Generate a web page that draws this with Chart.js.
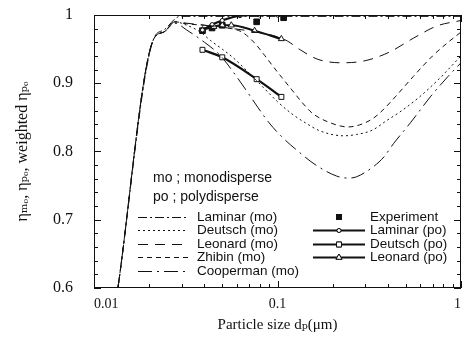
<!DOCTYPE html>
<html>
<head>
<meta charset="utf-8">
<script src="https://cdn.jsdelivr.net/npm/chart.js@4.4.0/dist/chart.umd.min.js"></script>
<style>
    html, body { margin: 0; padding: 0; background: #fff; }
    #wrap { width: 470px; height: 343px; }
</style>
</head>
<body>
<div id="wrap"><canvas id="effChart" width="470" height="343"></canvas></div>
<script>
// monodisperse curves
const laminarMoX = [0.0135, 0.021, 0.024, 0.0294, 0.04, 0.1, 0.3, 1];
const laminarMoY = [0.6, 0.963, 0.978, 0.998, 0.998, 0.998, 0.998, 0.998];

const deutschMoX = [0.0135, 0.021, 0.024, 0.0276, 0.032, 0.038, 0.043, 0.05, 0.057, 0.07, 0.085, 0.1, 0.12, 0.142, 0.171, 0.23, 0.27, 0.327, 0.397, 0.465, 0.594, 0.75, 1];
const deutschMoY = [0.6, 0.963, 0.975, 0.99, 0.985, 0.975, 0.963, 0.95, 0.938, 0.915, 0.892, 0.873, 0.855, 0.842, 0.83, 0.823, 0.825, 0.831, 0.846, 0.858, 0.88, 0.905, 0.94];

const leonardMoX = [0.0135, 0.021, 0.024, 0.0276, 0.032, 0.04, 0.05, 0.065, 0.08, 0.1, 0.113, 0.133, 0.166, 0.224, 0.3, 0.41, 0.55, 0.74, 1];
const leonardMoY = [0.6, 0.963, 0.975, 0.99, 0.988, 0.985, 0.982, 0.978, 0.974, 0.968, 0.962, 0.949, 0.935, 0.93, 0.933, 0.946, 0.966, 0.984, 0.992];

const zhibinMoX = [0.0135, 0.021, 0.024, 0.0276, 0.032, 0.04, 0.05, 0.064, 0.075, 0.085, 0.095, 0.106, 0.12, 0.136, 0.155, 0.19, 0.242, 0.28, 0.33, 0.376, 0.438, 0.55, 0.7, 0.85, 1];
const zhibinMoY = [0.6, 0.963, 0.975, 0.99, 0.987, 0.985, 0.982, 0.975, 0.959, 0.941, 0.924, 0.908, 0.89, 0.872, 0.856, 0.843, 0.836, 0.839, 0.848, 0.861, 0.88, 0.91, 0.94, 0.96, 0.975];

const coopermanMoX = [0.0135, 0.021, 0.024, 0.0276, 0.032, 0.04, 0.0487, 0.0565, 0.069, 0.078, 0.09, 0.107, 0.13, 0.16, 0.21, 0.245, 0.27, 0.33, 0.38, 0.43, 0.53, 0.68, 0.85, 1];
const coopermanMoY = [0.6, 0.963, 0.975, 0.988, 0.978, 0.96, 0.941, 0.919, 0.886, 0.865, 0.842, 0.82, 0.8, 0.781, 0.764, 0.761, 0.763, 0.777, 0.792, 0.812, 0.842, 0.88, 0.91, 0.93];

// polydisperse curves + experiment
const laminarPoX = [0.039, 0.044, 0.05, 0.0625, 0.08, 0.1];
const laminarPoY = [0.978, 0.986, 0.992, 0.999, 1.0, 1.0];

const deutschPoX = [0.039, 0.05, 0.077, 0.105];
const deutschPoY = [0.949, 0.938, 0.906, 0.88];

const leonardPoX = [0.039, 0.045, 0.05, 0.056, 0.075, 0.105];
const leonardPoY = [0.978, 0.983, 0.985, 0.985, 0.977, 0.965];

const expX = [0.039, 0.044, 0.05, 0.077, 0.108];
const expY = [0.977, 0.981, 0.985, 0.99, 0.996];

// axis ticks
const xMajor = [0.01, 0.1, 1];
const xMinor = [0.02, 0.03, 0.04, 0.05, 0.06, 0.07, 0.08, 0.09, 0.2, 0.3, 0.4, 0.5, 0.6, 0.7, 0.8, 0.9];
const yMajor = [0.6, 0.7, 0.8, 0.9, 1.0];
const yMinor = [0.62, 0.64, 0.66, 0.68, 0.72, 0.74, 0.76, 0.78, 0.82, 0.84, 0.86, 0.88, 0.92, 0.94, 0.96, 0.98];

const INK = "#111";

function pts(xs, ys) {
    return xs.map((x, i) => ({ x: x, y: ys[i] }));
}

function moSet(label, xs, ys, dash) {
    return {
        label: label,
        data: pts(xs, ys),
        showLine: true,
        borderColor: INK,
        borderWidth: 1,
        borderDash: dash,
        pointRadius: 0,
        cubicInterpolationMode: "monotone"
    };
}

function poSet(label, xs, ys, style, radius) {
    return {
        label: label,
        data: pts(xs, ys),
        showLine: true,
        borderColor: INK,
        borderWidth: 2.2,
        pointStyle: style,
        pointRadius: radius,
        pointBorderWidth: 1,
        pointBackgroundColor: "#fff",
        pointBorderColor: INK,
        cubicInterpolationMode: "monotone"
    };
}

const datasets = [
    moSet("Laminar (mo)", laminarMoX, laminarMoY, [9, 3, 2, 3]),
    moSet("Deutsch (mo)", deutschMoX, deutschMoY, [2, 3]),
    moSet("Leonard (mo)", leonardMoX, leonardMoY, [10, 7]),
    moSet("Zhibin (mo)", zhibinMoX, zhibinMoY, [5, 4]),
    moSet("Cooperman (mo)", coopermanMoX, coopermanMoY, [14, 5, 2, 5]),
    poSet("Laminar (po)", laminarPoX, laminarPoY, "circle", 2),
    poSet("Deutsch (po)", deutschPoX, deutschPoY, "rect", 3.5),
    poSet("Leonard (po)", leonardPoX, leonardPoY, "triangle", 3.5),
    {
        label: "Experiment",
        data: pts(expX, expY),
        showLine: false,
        pointStyle: "rect",
        pointRadius: 4,
        pointBackgroundColor: INK,
        pointBorderColor: INK
    }
];

// inward ticks, frame and the in-plot legend
const framePlugin = {
    id: "framePlugin",
    afterDatasetsDraw(chart) {
        const { ctx, chartArea: a, scales: { x, y } } = chart;
        ctx.save();
        ctx.strokeStyle = INK;
        ctx.lineWidth = 1;
        ctx.setLineDash([]);
        ctx.strokeRect(a.left + 0.5, a.top + 0.5, a.width - 1, a.height - 1);

        ctx.beginPath();
        const xt = (v, len) => {
            const px = Math.round(x.getPixelForValue(v)) + 0.5;
            ctx.moveTo(px, a.bottom); ctx.lineTo(px, a.bottom - len);
            ctx.moveTo(px, a.top); ctx.lineTo(px, a.top + len);
        };
        const yt = (v, len) => {
            const py = Math.round(y.getPixelForValue(v)) + 0.5;
            ctx.moveTo(a.left, py); ctx.lineTo(a.left + len, py);
            ctx.moveTo(a.right, py); ctx.lineTo(a.right - len, py);
        };
        xMajor.forEach(v => xt(v, 7));
        xMinor.forEach(v => xt(v, 4));
        yMajor.forEach(v => yt(v, 7));
        yMinor.forEach(v => yt(v, 4));
        ctx.stroke();

        // legend
        ctx.fillStyle = INK;
        ctx.font = "14px 'Liberation Sans', Arial, sans-serif";
        ctx.textBaseline = "middle";
        ctx.textAlign = "left";
        ctx.fillText("mo ; monodisperse", 153, 178);
        ctx.fillText("po ; polydisperse", 153, 197);

        ctx.font = "13.5px 'Liberation Sans', Arial, sans-serif";
        const rows = [217, 230, 244, 257, 271];
        for (let i = 0; i < 5; i++) {
            const ds = chart.data.datasets[i];
            ctx.beginPath();
            ctx.setLineDash(ds.borderDash);
            ctx.lineWidth = 1;
            ctx.moveTo(138, rows[i] + 0.5);
            ctx.lineTo(188, rows[i] + 0.5);
            ctx.stroke();
            ctx.setLineDash([]);
            ctx.fillText(ds.label, 197, rows[i]);
        }

        // experiment
        ctx.fillRect(336, rows[0] - 3, 6, 6);
        ctx.fillText("Experiment", 370, rows[0]);
        const poRows = [[5, rows[1]], [6, rows[2]], [7, rows[3]]];
        poRows.forEach(([idx, ry]) => {
            const ds = chart.data.datasets[idx];
            ctx.beginPath();
            ctx.lineWidth = 2;
            ctx.moveTo(313, ry + 0.5);
            ctx.lineTo(365, ry + 0.5);
            ctx.stroke();
            ctx.lineWidth = 1;
            ctx.fillStyle = "#fff";
            Chart.helpers.drawPoint(ctx, { pointStyle: ds.pointStyle, radius: ds.pointRadius, borderWidth: 1 }, 339, ry + 0.5);
            ctx.fill();
            ctx.stroke();
            ctx.fillStyle = INK;
            ctx.fillText(ds.label, 370, ry);
        });
        ctx.restore();
    }
};

const ctx = document.getElementById("effChart").getContext("2d");

const effChart = new Chart(ctx, {
    type: "scatter",
    data: { datasets: datasets },
    options: {
        responsive: false,
        animation: false,
        devicePixelRatio: 1,
        layout: { padding: { left: 0, right: 9, top: 15, bottom: 0 } },
        plugins: {
            legend: { display: false },
            tooltip: { enabled: false }
        },
        scales: {
            x: {
                type: "logarithmic",
                min: 0.01,
                max: 1,
                grid: { display: false, drawTicks: false },
                border: { display: false },
                afterBuildTicks: s => { s.ticks = xMajor.map(v => ({ value: v })); },
                afterFit: s => {
                    s.height = 55;
                    s.paddingLeft = 0;
                    s.paddingRight = 0;
                },
                ticks: {
                    color: INK,
                    padding: 8,
                    align: "inner",
                    autoSkip: false,
                    maxRotation: 0,
                    font: { family: "'Liberation Serif', 'DejaVu Serif', serif", size: 14 },
                    callback: v => String(v)
                },
                title: {
                    display: true,
                    text: "Particle size dₚ(μm)",
                    color: INK,
                    padding: { top: 0, bottom: 9 },
                    font: { family: "'Liberation Serif', 'DejaVu Serif', serif", size: 15 }
                }
            },
            y: {
                min: 0.6,
                max: 1,
                grid: { display: false, drawTicks: false },
                border: { display: false },
                afterBuildTicks: s => { s.ticks = yMajor.map(v => ({ value: v })); },
                afterFit: s => {
                    s.width = 94;
                    s.paddingTop = 0;
                    s.paddingBottom = 0;
                },
                ticks: {
                    color: INK,
                    padding: 21,
                    font: { family: "'Liberation Serif', 'DejaVu Serif', serif", size: 16 },
                    callback: v => (Math.abs(v - 1) < 1e-9 ? "1" : v.toFixed(1))
                },
                title: {
                    display: true,
                    text: "ηₘₒ, ηₚₒ, weighted ηₚₒ",
                    color: INK,
                    padding: { top: 13, bottom: 0 },
                    font: { family: "'Liberation Serif', 'DejaVu Serif', serif", size: 16 }
                }
            }
        }
    },
    plugins: [framePlugin]
});
</script>
</body>
</html>
